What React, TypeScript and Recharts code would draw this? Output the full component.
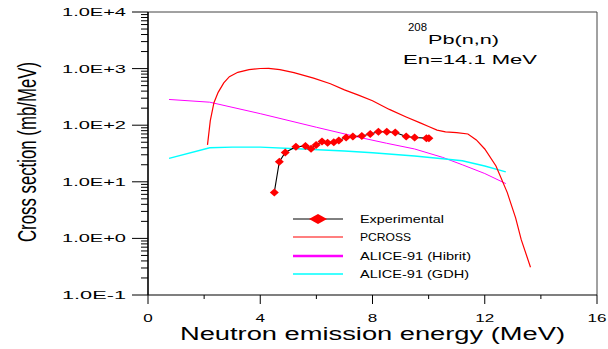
import React from 'react';
import { LineChart, Line, XAxis, YAxis, Legend, ReferenceLine } from 'recharts';

// ---- data ----
const expEnergy = [4.5, 4.68, 4.89, 5.27, 5.61, 5.81, 5.99, 6.2, 6.4, 6.62, 6.8, 7.06, 7.3, 7.62, 7.92, 8.21, 8.51, 8.81, 9.2, 9.5, 9.92, 10.01];
const expValue = [6.5, 22.6, 33, 41.6, 42.7, 38.5, 44.7, 51.3, 49, 50, 53.7, 60.5, 63, 64.6, 70, 76.8, 76.8, 74, 63, 60.5, 59, 59];

const pcrossEnergy = [2.12, 2.22, 2.35, 2.5, 2.7, 2.9, 3.2, 3.6, 4.0, 4.3, 4.7, 5.2, 5.9, 6.5, 7.0, 7.5, 8.0, 8.6, 9.2, 9.7, 10.0, 10.3, 10.6, 11.0, 11.4, 11.7, 12.0, 12.4, 12.8, 13.1, 13.3, 13.63];
const pcrossValue = [45, 120, 250, 380, 560, 720, 860, 960, 1005, 1010, 960, 850, 680, 540, 420, 340, 270, 190, 140, 110, 95, 82, 76, 74, 70, 55, 38, 19, 6.5, 2.3, 0.95, 0.31];

const hibritEnergy = [0.75, 2.2, 4.0, 6.0, 7.4, 8.5, 9.5, 10.5, 11.2, 12.0, 12.75];
const hibritValue = [285, 255, 160, 92, 63, 48, 38, 27, 20, 14, 9.3];

const gdhEnergy = [0.75, 2.2, 3.0, 4.0, 5.5, 7.0, 8.0, 9.5, 10.5, 11.2, 12.0, 12.75];
const gdhValue = [26, 40, 41, 41, 38, 35, 32.6, 28.5, 25.5, 23.5, 19, 15];

const xTicks = [0, 2, 4, 6, 8, 10, 12, 14, 16];
const xMajorLabels: Record<number, string> = { 0: '0', 4: '4', 8: '8', 12: '12', 16: '16' };
const yDecades = [-1, 0, 1, 2, 3, 4];
const yDecadeLabels = ['1.0E-1', '1.0E+0', '1.0E+1', '1.0E+2', '1.0E+3', '1.0E+4'];
const legendOrder = ['Experimental', 'PCROSS', 'ALICE-91 (Hibrit)', 'ALICE-91 (GDH)'];

const toRows = (xs: number[], ys: number[]) => xs.map((x, i) => ({ x, y: ys[i] }));
const expData = toRows(expEnergy, expValue);
const pcrossData = toRows(pcrossEnergy, pcrossValue);
const hibritData = toRows(hibritEnergy, hibritValue);
const gdhData = toRows(gdhEnergy, gdhValue);

const yTicks: number[] = [];
yDecades.forEach((d) => {
  if (d === 4) {
    yTicks.push(Math.pow(10, d));
  } else {
    for (let m = 1; m <= 9; m++) yTicks.push(Number((m * Math.pow(10, d)).toPrecision(3)));
  }
});

const FONT = '"Liberation Sans", Arial, Helvetica, sans-serif';

const YTick = (props: any) => {
  const { x, y, payload } = props;
  const v = payload.value;
  const lg = Math.log10(v);
  const major = Math.abs(lg - Math.round(lg)) < 1e-6;
  const idx = yDecades.indexOf(Math.round(lg));
  return (
    <g>
      <line x1={x - (major ? 16 : 7)} x2={x} y1={y} y2={y} stroke="#000" strokeWidth={1} />
      {major && idx >= 0 && (
        <text x={x - 22} y={y} dy={4} textAnchor="end" fontSize={11.5} fontFamily={FONT} fill="#000"
          textLength={64} lengthAdjust="spacingAndGlyphs">
          {yDecadeLabels[idx]}
        </text>
      )}
    </g>
  );
};

const XTick = (props: any) => {
  const { x, y, payload } = props;
  const v = payload.value;
  const label = xMajorLabels[v];
  const major = label !== undefined;
  return (
    <g>
      <line x1={x} x2={x} y1={y} y2={y + (major ? 9 : 4)} stroke="#000" strokeWidth={1} />
      {major && (
        <text x={x} y={y + 27} textAnchor="middle" fontSize={11} fontFamily={FONT} fill="#000"
          textLength={9.5 * label.length} lengthAdjust="spacingAndGlyphs">
          {label}
        </text>
      )}
    </g>
  );
};

const Diamond = (props: any) => {
  const { cx, cy, index } = props;
  if (cx == null || cy == null) return <g key={`d-${index}`} />;
  return (
    <polygon key={`d-${index}`} points={`${cx - 4.5},${cy} ${cx},${cy - 4} ${cx + 4.5},${cy} ${cx},${cy + 4}`} fill="#ff0000" />
  );
};

const legendWidths: Record<string, number> = {
  Experimental: 1,
  PCROSS: 1.2,
  'ALICE-91 (Hibrit)': 2.5,
  'ALICE-91 (GDH)': 1.6,
};
const legendTextLen: Record<string, number> = {
  Experimental: 84,
  PCROSS: 51,
  'ALICE-91 (Hibrit)': 111,
  'ALICE-91 (GDH)': 109,
};
const legendRowY = [14, 32, 51, 69];

const renderLegend = (props: any) => {
  const items = [...(props.payload || [])].sort(
    (a: any, b: any) => legendOrder.indexOf(a.value) - legendOrder.indexOf(b.value)
  );
  return (
    <svg width={200} height={80} style={{ overflow: 'visible' }}>
      {items.map((it: any, i: number) => {
        const yy = legendRowY[i];
        return (
          <g key={it.value}>
            <line x1={8} x2={58} y1={yy} y2={yy} stroke={it.color} strokeWidth={legendWidths[it.value] || 1} />
            {it.value === 'Experimental' && (
              <polygon points={`${24},${yy} ${33},${yy - 5} ${42},${yy} ${33},${yy + 5}`} fill="#ff0000" />
            )}
            <text x={75} y={yy + 4} fontSize={10.5} fontFamily={FONT} fill="#000"
              textLength={legendTextLen[it.value]} lengthAdjust="spacingAndGlyphs">
              {it.value}
            </text>
          </g>
        );
      })}
    </svg>
  );
};

export default function App() {
  return (
    <div style={{ position: 'relative', width: 608, height: 349 }}>
      <style>{'html,body{margin:0;padding:0;overflow:hidden;}'}</style>
      <LineChart width={608} height={349} margin={{ top: 12, right: 11, bottom: 0, left: 0 }}>
        <XAxis
          type="number"
          dataKey="x"
          domain={[0, 16]}
          ticks={xTicks}
          interval={0}
          allowDataOverflow
          height={54}
          tickSize={0}
          tickMargin={0}
          tickLine={false}
          axisLine={{ stroke: '#000', strokeWidth: 1.2 }}
          tick={<XTick />}
        />
        <YAxis
          type="number"
          dataKey="y"
          scale="log"
          domain={[0.1, 10000]}
          ticks={yTicks}
          interval={0}
          allowDataOverflow
          width={148}
          tickSize={0}
          tickMargin={0}
          tickLine={false}
          axisLine={{ stroke: '#000', strokeWidth: 1.6 }}
          tick={<YTick />}
        />
        <ReferenceLine y={10000} stroke="#444" strokeWidth={1} ifOverflow="visible" />
        <ReferenceLine x={16} stroke="#444" strokeWidth={1} ifOverflow="visible" />
        <Line data={hibritData} dataKey="y" name="ALICE-91 (Hibrit)" type="linear" stroke="#ff00ff" strokeWidth={1} dot={false} isAnimationActive={false} />
        <Line data={gdhData} dataKey="y" name="ALICE-91 (GDH)" type="linear" stroke="#00ffff" strokeWidth={1.4} dot={false} isAnimationActive={false} />
        <Line data={pcrossData} dataKey="y" name="PCROSS" type="linear" stroke="#ff0000" strokeWidth={1.2} dot={false} isAnimationActive={false} />
        <Line data={expData} dataKey="y" name="Experimental" type="linear" stroke="#000000" strokeWidth={1.1} dot={(p: any) => <Diamond {...p} key={`dia-${p.index}`} />} isAnimationActive={false} />
        <Legend
          content={renderLegend}
          layout="horizontal"
          verticalAlign="middle"
          align="center"
          wrapperStyle={{ left: 285, top: 205, width: 200, height: 80 }}
        />
      </LineChart>
      <svg width={608} height={349} style={{ position: 'absolute', left: 0, top: 0, pointerEvents: 'none' }}>
        <text x={408} y={31} fontSize={10} fontFamily={FONT} fill="#000" textLength={19} lengthAdjust="spacingAndGlyphs">208</text>
        <text x={428} y={44} fontSize={12.5} fontFamily={FONT} fill="#000" textLength={71} lengthAdjust="spacingAndGlyphs">Pb(n,n)</text>
        <text x={403} y={64} fontSize={13} fontFamily={FONT} fill="#000" textLength={134} lengthAdjust="spacingAndGlyphs">En=14.1 MeV</text>
        <text x={372.5} y={340} textAnchor="middle" fontSize={17.5} fontFamily={FONT} fill="#000" textLength={385} lengthAdjust="spacingAndGlyphs">
          Neutron emission energy (MeV)
        </text>
        <text x={0} y={0} transform="translate(36,152) rotate(-90)" textAnchor="middle" fontSize={26} fontFamily={FONT} fill="#000" textLength={180} lengthAdjust="spacingAndGlyphs">
          Cross section (mb/MeV)
        </text>
      </svg>
    </div>
  );
}
